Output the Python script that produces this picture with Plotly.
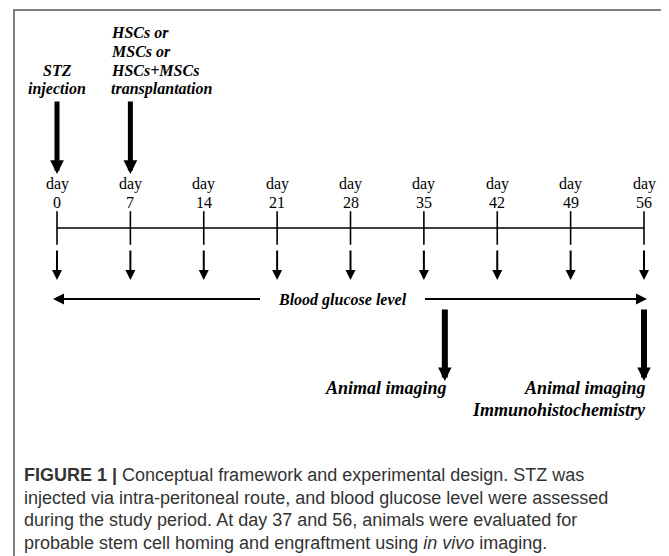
import plotly.graph_objects as go

# ---------------- data ----------------
days = [0, 7, 14, 21, 28, 35, 42, 49, 56]
day_word = "day"
top_event_days = [0, 7]
top_event_labels = [["STZ", "injection"],
                    ["HSCs or", "MSCs or", "HSCs+MSCs", "transplantation"]]
glucose_label = "Blood glucose level"
glucose_span = [0, 56]
imaging_days = [37, 56]
imaging_labels = [["Animal imaging"], ["Animal imaging", "Immunohistochemistry"]]
caption_lines = [
    "<b>FIGURE 1 |</b> Conceptual framework and experimental design. STZ was",
    "injected via intra-peritoneal route, and blood glucose level were assessed",
    "during the study period. At day 37 and 56, animals were evaluated for",
    "probable stem cell homing and engraftment using <i>in vivo</i> imaging.",
]

# ---------------- layout geometry ----------------
W, H = 669, 556           # browser window
OFF = 8                   # default page margin around the plot div
FW, FH = W - OFF, H - OFF  # figure size
PX0, PX1 = 57, 644        # window pixel position of first / last day
scale = (PX1 - PX0) / (days[-1] - days[0])
x_range = [days[0] - (PX0 - OFF) / scale, days[0] + (W - PX0) / scale]


def dpx(px):
    """pixel distance -> days"""
    return px / scale


def px_paper_x(p):
    return (p - OFF) / FW


def px_paper_y(p):
    return 1 - (p - OFF) / FH


SERIF = "Liberation Serif, Times New Roman, serif"
SANS = "Liberation Sans, Arial, sans-serif"
INK = "#000000"

fig = go.Figure()

# tick marks on the timeline
fig.add_trace(go.Scatter(
    x=days, y=[228] * len(days), mode="markers",
    marker=dict(symbol="line-ns-open", size=24, color=INK,
                line=dict(width=1.6, color=INK)),
    hoverinfo="skip", showlegend=False))

annotations = []
shapes = []

# timeline axis line
shapes.append(dict(type="line", xref="x", yref="y", x0=days[0], x1=days[-1],
                   y0=228, y1=228, line=dict(color=INK, width=1.6)))

# frame
shapes.append(dict(type="rect", xref="paper", yref="paper",
                   x0=px_paper_x(14), x1=px_paper_x(665),
                   y0=-0.2, y1=px_paper_y(10),
                   line=dict(color="#555555", width=1.5)))

# day labels and small arrows
for d in days:
    annotations.append(dict(x=d, y=184, xref="x", yref="y", text=day_word,
                            showarrow=False, xanchor="center", yanchor="middle",
                            font=dict(family=SERIF, size=16, color=INK)))
    annotations.append(dict(x=d, y=202, xref="x", yref="y", text=str(d),
                            showarrow=False, xanchor="center", yanchor="middle",
                            font=dict(family=SERIF, size=16, color=INK)))
    annotations.append(dict(x=d, y=280, ax=d, ay=249, xref="x", yref="y",
                            axref="x", ayref="y", text="", showarrow=True,
                            arrowhead=2, arrowsize=1.0, arrowwidth=2,
                            arrowcolor=INK, standoff=0))

# top events: thick arrows + labels
for i, (d, lines) in enumerate(zip(top_event_days, top_event_labels)):
    annotations.append(dict(x=d, y=174, ax=d, ay=100, xref="x", yref="y",
                            axref="x", ayref="y", text="", showarrow=True,
                            arrowhead=2, arrowsize=0.55, arrowwidth=5,
                            arrowcolor=INK, standoff=0))
    n = len(lines)
    for k, t in enumerate(lines):
        yy = 89 - (n - 1 - k) * 18.7
        if i == 0:
            annotations.append(dict(x=d, y=yy, xref="x", yref="y",
                                    text="<b><i>%s</i></b>" % t, showarrow=False,
                                    xanchor="center", yanchor="middle",
                                    font=dict(family=SERIF, size=16, color=INK)))
        else:
            annotations.append(dict(x=d, y=yy, xref="x", yref="y",
                                    text="<b><i>%s</i></b>" % t, showarrow=False,
                                    xanchor="left", yanchor="middle", xshift=-21,
                                    font=dict(family=SERIF, size=16, color=INK)))

# blood glucose double arrow with label in the middle
gmid = (glucose_span[0] + glucose_span[1]) / 2 - dpx(8)
half = dpx(65 + 16)
annotations.append(dict(x=gmid, y=300, xref="x", yref="y",
                        text="<b><i>%s</i></b>" % glucose_label, showarrow=False,
                        xanchor="center", yanchor="middle",
                        font=dict(family=SERIF, size=16, color=INK)))
annotations.append(dict(x=glucose_span[0] - dpx(4), y=299, ax=gmid - half, ay=299,
                        xref="x", yref="y", axref="x", ayref="y", text="",
                        showarrow=True, arrowhead=2, arrowsize=1.1, arrowwidth=2,
                        arrowcolor=INK, standoff=0))
annotations.append(dict(x=glucose_span[1] + dpx(3), y=299, ax=gmid + half, ay=299,
                        xref="x", yref="y", axref="x", ayref="y", text="",
                        showarrow=True, arrowhead=2, arrowsize=1.1, arrowwidth=2,
                        arrowcolor=INK, standoff=0))

# imaging thick arrows + labels
for d, lines in zip(imaging_days, imaging_labels):
    annotations.append(dict(x=d, y=381, ax=d, ay=308, xref="x", yref="y",
                            axref="x", ayref="y", text="", showarrow=True,
                            arrowhead=2, arrowsize=0.45, arrowwidth=6,
                            arrowcolor=INK, standoff=0))
    for k, t in enumerate(lines):
        annotations.append(dict(x=d, y=388 + k * 22, xref="x", yref="y",
                                text="<b><i>%s</i></b>" % t, showarrow=False,
                                xanchor="right", yanchor="middle", xshift=4,
                                font=dict(family=SERIF, size=18, color=INK)))

# caption
for k, t in enumerate(caption_lines):
    annotations.append(dict(x=px_paper_x(22), y=px_paper_y(475 + k * 22.5),
                            xref="paper", yref="paper", text=t, showarrow=False,
                            xanchor="left", yanchor="middle",
                            font=dict(family=SANS, size=18, color="#333333")))

fig.update_layout(
    width=FW, height=FH,
    margin=dict(l=0, r=0, t=0, b=0),
    paper_bgcolor="white", plot_bgcolor="white",
    xaxis=dict(range=x_range, visible=False, fixedrange=True),
    yaxis=dict(range=[H, OFF], visible=False, fixedrange=True),
    annotations=annotations, shapes=shapes,
    showlegend=False,
)

fig.write_html("out.html", config={"displayModeBar": False})
